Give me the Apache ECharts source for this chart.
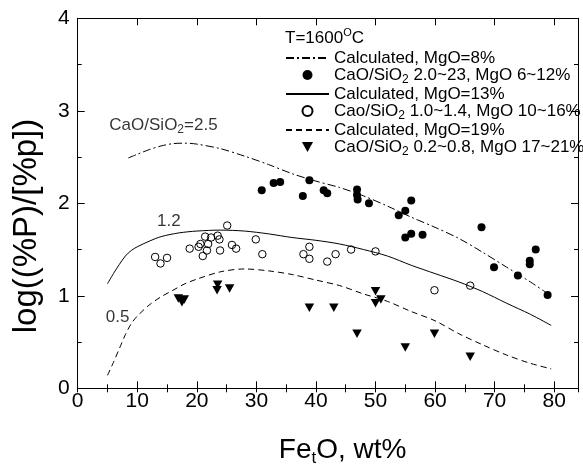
<!DOCTYPE html>
<html>
<head>
<meta charset="utf-8">
<title>Phosphorus distribution vs FetO</title>
<script src="https://cdn.jsdelivr.net/npm/echarts@6/dist/echarts.min.js"></script>
<style>
  html, body { margin: 0; padding: 0; background: #fff; }
  #chart { width: 583px; height: 468px; }
</style>
</head>
<body>
<div id="chart"></div>
<script>
// Calculated curves: [FetO wt%, log((%P)/[%P])]
const calcMgO8 = [[8.5,2.49],[10,2.53],[12,2.58],[14,2.62],[16,2.645],[18,2.65],[20,2.64],[24,2.59],[28,2.51],[32,2.42],[36,2.32],[40,2.24],[44,2.17],[48,2.08],[52,1.97],[56,1.85],[60,1.74],[64,1.62],[68,1.47],[72,1.31],[76,1.15],[79,1.02]];
const calcMgO13 = [[5,1.13],[6,1.24],[7,1.34],[8,1.43],[9,1.49],[10,1.53],[12,1.59],[14,1.64],[17,1.68],[20,1.70],[24,1.71],[28,1.70],[32,1.67],[36,1.63],[40,1.60],[44,1.56],[48,1.50],[52,1.43],[56,1.33],[60,1.24],[64,1.15],[68,1.045],[72,0.92],[76,0.80],[79.5,0.68]];
const calcMgO19 = [[5,0.14],[6,0.28],[7,0.43],[8,0.58],[9,0.70],[10,0.78],[12,0.90],[14,0.99],[16,1.06],[18,1.13],[20,1.18],[24,1.26],[28,1.29],[32,1.27],[36,1.23],[40,1.17],[44,1.11],[48,1.02],[52,0.94],[56,0.83],[60,0.73],[64,0.59],[68,0.47],[72,0.36],[76,0.27],[79.5,0.21]];

// Measured slags
const highBasicity = [[30.9,2.14],[32.9,2.22],[34.0,2.23],[37.8,2.08],[38.9,2.25],[41.3,2.14],[41.9,2.11],[46.9,2.15],[46.9,2.09],[47.0,2.04],[48.9,2.00],[53.9,1.87],[55.0,1.92],[56.0,2.03],[55.0,1.63],[56.0,1.67],[57.9,1.66],[67.8,1.74],[69.9,1.31],[73.9,1.22],[75.9,1.38],[75.9,1.34],[76.9,1.50],[78.9,1.01]];
const midBasicity = [[13.0,1.42],[13.9,1.35],[15.0,1.41],[18.8,1.51],[20.3,1.53],[20.6,1.56],[21.4,1.64],[22.4,1.63],[21.9,1.56],[21.7,1.49],[21.0,1.43],[23.5,1.65],[23.8,1.61],[23.9,1.49],[25.1,1.76],[25.9,1.55],[26.6,1.51],[29.9,1.61],[31.0,1.45],[37.9,1.45],[38.9,1.53],[38.9,1.40],[41.9,1.37],[43.3,1.45],[45.9,1.50],[50.0,1.48],[59.9,1.06],[65.9,1.11]];
const lowBasicity = [[16.9,0.97],[17.5,0.93],[17.9,0.96],[23.4,1.06],[23.5,1.12],[25.5,1.08],[38.9,0.87],[43.0,0.87],[46.9,0.59],[50.0,1.05],[50.0,0.92],[50.9,0.96],[55.0,0.44],[59.9,0.59],[65.9,0.34]];

const seriesNames = [
  'Calculated, MgO=8%',
  'CaO/SiO2 2.0~23, MgO 6~12%',
  'Calculated, MgO=13%',
  'Cao/SiO2 1.0~1.4, MgO 10~16%',
  'Calculated, MgO=19%',
  'CaO/SiO2 0.2~0.8, MgO 17~21%'
];

// Curve labels (basicity) placed at data coordinates
const curveLabels = ['CaO/SiO2=2.5', '1.2', '0.5'];
const curveLabelAt = [[14.4,2.84],[15.3,1.80],[6.7,0.77]];

const FONT = '"Liberation Sans", Arial, Helvetica, sans-serif';
const INK = '#000';
const downTriangle = 'path://M0,0 L10,0 L5,9 Z';

// Turn "SiO2" into rich text with a subscript 2
function withSub(str) {
  return str.split('SiO2').map(s => s ? '{n|' + s + '}' : '').join('{n|SiO}{s|2}');
}

const richSmall = {
  n: { fontSize: 17, lineHeight: 21, fontFamily: FONT, color: INK },
  s: { fontSize: 12, lineHeight: 5, verticalAlign: 'bottom', fontFamily: FONT, color: INK },
  sup: { fontSize: 11, lineHeight: 11, verticalAlign: 'top', fontFamily: FONT, color: INK }
};

const chart = echarts.init(document.getElementById('chart'), null, { renderer: 'canvas' });

const axisLine = { show: true, onZero: false, lineStyle: { color: INK, width: 1 } };
function xAxisDef(position, interval, tickLen, labels) {
  return {
    type: 'value', position, min: 0, max: 84, interval,
    axisLine: tickLen === 7 ? axisLine : { show: false },
    axisTick: { show: true, inside: true, length: tickLen, lineStyle: { color: INK, width: 1 } },
    axisLabel: labels ? {
      show: true, fontSize: 21, color: INK, fontFamily: FONT, margin: 2,
      formatter: v => (v % 10 === 0 ? String(v) : '')
    } : { show: false },
    splitLine: { show: false }
  };
}
function yAxisDef(position, labels) {
  return {
    type: 'value', position, min: 0, max: 4, interval: 1,
    axisLine,
    axisTick: { show: true, inside: true, length: 7, lineStyle: { color: INK, width: 1 } },
    minorTick: { show: true, splitNumber: 2, length: 4, lineStyle: { color: INK, width: 1 } },
    axisLabel: labels ? { show: true, fontSize: 21, color: INK, fontFamily: FONT, margin: 8 } : { show: false },
    splitLine: { show: false },
    minorSplitLine: { show: false }
  };
}

function curve(name, data, type) {
  return {
    name, type: 'line', data, smooth: 0.3, symbol: 'none',
    xAxisIndex: 0, yAxisIndex: 0,
    lineStyle: { color: INK, width: 1, type },
    itemStyle: { color: INK },
    silent: true, z: 2
  };
}

// Line entries in the legend show only the stroke, no marker
const lineOnly = { opacity: 0 };

chart.setOption({
  animation: false,
  backgroundColor: '#fff',
  grid: { left: 77.7, top: 18.3, right: 5, bottom: 79.7 },
  xAxis: [
    xAxisDef('bottom', 10, 7, true),
    xAxisDef('bottom', 5, 4, false),
    xAxisDef('top', 10, 7, false),
    xAxisDef('top', 5, 4, false)
  ],
  yAxis: [yAxisDef('left', true), yAxisDef('right', false)],
  title: {
    text: '{n|T=1600}{sup|O}{n|C}',
    left: 285, top: 27.5, padding: 0,
    textStyle: { fontSize: 17, fontWeight: 'normal', color: INK, fontFamily: FONT, rich: richSmall }
  },
  legend: {
    orient: 'vertical', left: 285, top: 49.5, padding: 0, itemGap: 0,
    itemWidth: 43, itemHeight: 10, selectedMode: false,
    data: [
      { name: seriesNames[0], itemStyle: lineOnly },
      { name: seriesNames[1], icon: 'circle' },
      { name: seriesNames[2], itemStyle: lineOnly },
      { name: seriesNames[3], icon: 'circle' },
      { name: seriesNames[4], itemStyle: lineOnly },
      { name: seriesNames[5], icon: downTriangle }
    ],
    formatter: name => withSub(name),
    textStyle: { fontSize: 17, color: INK, fontFamily: FONT, rich: richSmall }
  },
  graphic: [
    {
      type: 'text', x: 342.6, y: 450, z: 10,
      style: {
        text: '{n|Fe}{s|t}{n|O, wt%}', align: 'center', verticalAlign: 'middle',
        rich: {
          n: { fontSize: 28, lineHeight: 34, fontFamily: FONT, fill: INK },
          s: { fontSize: 17, lineHeight: 10, verticalAlign: 'bottom', fontFamily: FONT, fill: INK }
        }
      }
    },
    {
      type: 'text', x: 27, y: 226, rotation: Math.PI / 2, z: 10,
      style: {
        text: 'log((%P)/[%p])', align: 'center', verticalAlign: 'middle',
        fontSize: 33, fontFamily: FONT, fill: INK
      }
    }
  ],
  series: [
    curve(seriesNames[0], calcMgO8, [8, 3, 2, 3]),
    {
      name: seriesNames[1], type: 'scatter', data: highBasicity,
      symbol: 'circle', symbolSize: 8,
      itemStyle: { color: INK, opacity: 1 }, z: 3
    },
    curve(seriesNames[2], calcMgO13, 'solid'),
    {
      name: seriesNames[3], type: 'scatter', data: midBasicity,
      symbol: 'circle', symbolSize: 7.5,
      itemStyle: { color: 'rgba(255,255,255,0)', borderColor: INK, borderWidth: 1, opacity: 1 }, z: 3
    },
    curve(seriesNames[4], calcMgO19, [6, 4]),
    {
      name: seriesNames[5], type: 'scatter', data: lowBasicity,
      symbol: downTriangle, symbolSize: [9.5, 8.5],
      itemStyle: { color: INK, opacity: 1 }, z: 3
    },
    {
      name: 'curve labels', type: 'scatter', silent: true,
      symbol: 'circle', symbolSize: 1,
      itemStyle: { color: 'rgba(0,0,0,0)' },
      data: curveLabels.map((t, i) => ({ value: curveLabelAt[i], text: t })),
      label: {
        show: true, position: 'inside',
        formatter: p => withSub(p.data.text),
        rich: richSmall
      }
    }
  ]
});
</script>
</body>
</html>
